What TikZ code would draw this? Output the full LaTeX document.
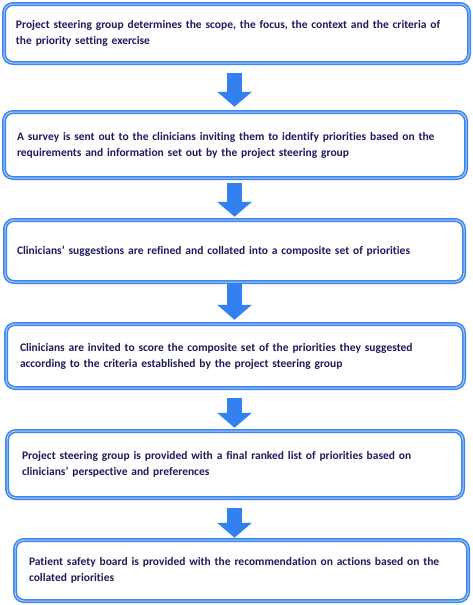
\documentclass[tikz,border=0pt]{standalone}
\usepackage{fontspec}
\setmainfont[Ligatures=NoCommon]{Carlito}
\usetikzlibrary{arrows.meta,calc}
\definecolor{boxblue}{HTML}{3D86EE}
\definecolor{boxlight}{HTML}{A9CBF6}
\definecolor{arrblue}{HTML}{3381F0}
\definecolor{txtnavy}{HTML}{1C1C5E}
\begin{document}
\begin{tikzpicture}[x=1pt,y=-1pt,
  stepbox/.style={draw=boxblue, double=boxlight, line width=1.5pt, double distance=1pt,
    rounded corners=9pt, fill=white, inner sep=0pt, align=left,
    font=\fontsize{11.5pt}{16pt}\selectfont\bfseries, text=txtnavy},
  barrow/.style={draw=arrblue, line width=15pt, -{Triangle[width=34pt,length=15pt]}}
  ]
\useasboundingbox (0,0) rectangle (473,605);
\node[stepbox, minimum width=465pt, minimum height=59pt, text width=441pt] (b1) at (236.5,33.5)
  {Project steering group determines the scope, the focus, the context and the criteria of\\the priority setting exercise};
\node[stepbox, minimum width=462pt, minimum height=66pt, text width=436pt] (b2) at (235,145)
  {A survey is sent out to the clinicians inviting them to identify priorities based on the\\requirements and information set out by the project steering group};
\node[stepbox, minimum width=459pt, minimum height=62pt, text width=435pt] (b3) at (234.5,251)
  {Clinicians’ suggestions are refined and collated into a composite set of priorities};
\node[stepbox, minimum width=458pt, minimum height=64pt, text width=430pt] (b4) at (235,356)
  {Clinicians are invited to score the composite set of the priorities they suggested\\according to the criteria established by the project steering group};
\node[stepbox, minimum width=456pt, minimum height=67pt, text width=426pt] (b5) at (235,464.5)
  {Project steering group is provided with a final ranked list of priorities based on\\clinicians’ perspective and preferences};
\node[stepbox, minimum width=453pt, minimum height=61pt, text width=425pt] (b6) at (241.5,570.5)
  {Patient safety board is provided with the recommendation on actions based on the\\collated priorities};
\coordinate (ax) at (234.5,0);
\draw[barrow, shorten <=9.5pt, shorten >=4.5pt] (b1.south -| ax) -- (b2.north -| ax);
\draw[barrow, shorten <=4.5pt, shorten >=2.5pt] (b2.south -| ax) -- (b3.north -| ax);
\draw[barrow, shorten <=0.5pt, shorten >=3.5pt] (b3.south -| ax) -- (b4.north -| ax);
\draw[barrow, shorten <=9.5pt, shorten >=2.5pt] (b4.south -| ax) -- (b5.north -| ax);
\draw[barrow, shorten <=9.5pt, shorten >=1.5pt] (b5.south -| ax) -- (b6.north -| ax);
\end{tikzpicture}
\end{document}
